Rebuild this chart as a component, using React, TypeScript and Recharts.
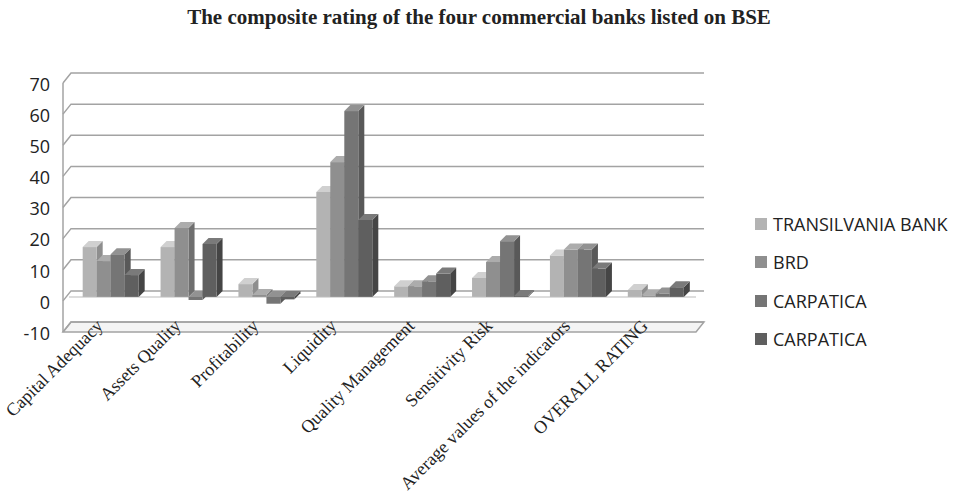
import { BarChart, Bar, XAxis, YAxis, CartesianGrid } from 'recharts'

const categories = [
  'Capital Adequacy',
  'Assets Quality',
  'Profitability',
  'Liquidity',
  'Quality Management',
  'Sensitivity Risk',
  'Average values of the indicators',
  'OVERALL RATING',
]

const transilvania = [16, 16, 4.1, 33.7, 3.4, 6.1, 13.3, 2.2]
const brd = [11.5, 22.1, 0.6, 43.3, 3.4, 11.2, 15.2, 0.5]
const carpatica1 = [13.7, -1, -2.2, 59.7, 5, 17.9, 15.2, 1.1]
const carpatica2 = [7, 17, -0.8, 24.7, 7.5, 0.3, 9.1, 3.1]

const yTicks = [-10, 0, 10, 20, 30, 40, 50, 60, 70]
const yMin = -10
const yMax = 70

const series = [
  { key: 'tb', name: 'TRANSILVANIA BANK', values: transilvania, front: '#b3b3b3', top: '#d0d0d0', side: '#8e8e8e' },
  { key: 'brd', name: 'BRD', values: brd, front: '#8f8f8f', top: '#acacac', side: '#6f6f6f' },
  { key: 'c1', name: 'CARPATICA', values: carpatica1, front: '#757575', top: '#929292', side: '#595959' },
  { key: 'c2', name: 'CARPATICA', values: carpatica2, front: '#5f5f5f', top: '#7a7a7a', side: '#454545' },
]

const data = categories.map((name, i) => {
  const row: Record<string, string | number> = { name }
  series.forEach((s) => {
    row[s.key] = s.values[i]
  })
  return row
})

const BAR_DEPTH = 6
const WALL_DX = 8
const WALL_DY = 10
const GRID = '#a3a3a3'

// front face + top + right side, so the series read like Excel's 3D columns
function make3DBar(front: string, top: string, side: string) {
  return (props: any) => {
    const { x, y, width, height } = props
    if (x == null || y == null) return <g />
    const t = Math.min(y, y + height)
    const h = Math.abs(height)
    const d = BAR_DEPTH
    const w = width
    return (
      <g>
        <polygon
          points={`${x + w},${t + d} ${x + w + d},${t} ${x + w + d},${t + h} ${x + w},${t + h + d}`}
          fill={side}
        />
        <rect x={x} y={t + d} width={w} height={h} fill={front} />
        <polygon
          points={`${x},${t + d} ${x + d},${t} ${x + w + d},${t} ${x + w},${t + d}`}
          fill={top}
        />
      </g>
    )
  }
}

function gridLine(props: any) {
  const { x1, y1, x2, y, height, key } = props
  const bottom = y + height
  const isBottom = Math.abs(y1 - bottom) < 1
  const isTop = Math.abs(y1 - y) < 1
  const value = yMax - ((y1 - y) / height) * (yMax - yMin)
  const isZero = Math.abs(value) < 0.5
  return (
    <g key={key}>
      {isBottom && (
        <polygon
          points={`${x1 - WALL_DX},${y1 + WALL_DY} ${x1},${y1} ${x2 + 10},${y1} ${x2 + 2},${y1 + WALL_DY}`}
          fill="#f4f4f4"
          stroke={GRID}
          strokeWidth={1.5}
        />
      )}
      {isTop && (
        <line
          x1={x1 - WALL_DX}
          y1={y1 + WALL_DY}
          x2={x1 - WALL_DX}
          y2={bottom + WALL_DY}
          stroke={GRID}
          strokeWidth={1.5}
        />
      )}
      {isZero && (
        <line x1={x1 - 2} y1={y1 + BAR_DEPTH} x2={x2 + 2} y2={y1 + BAR_DEPTH} stroke="#d2d2d2" strokeWidth={1.5} />
      )}
      <polyline
        points={`${x1 - WALL_DX},${y1 + WALL_DY} ${x1},${y1} ${x2 + 10},${y1}`}
        fill="none"
        stroke={GRID}
        strokeWidth={1.5}
      />
    </g>
  )
}

function YTick(props: any) {
  const { y, payload } = props
  return (
    <text
      x={50}
      y={y + WALL_DY + 3}
      textAnchor="end"
      dominantBaseline="middle"
      fontFamily="'Open Sans', sans-serif"
      fontSize={18}
      fill="#222"
    >
      {payload.value}
    </text>
  )
}

function XTick(props: any) {
  const { x, payload } = props
  const tx = x - 6
  const ty = 327
  return (
    <text
      x={tx}
      y={ty}
      textAnchor="end"
      transform={`rotate(-45, ${tx}, ${ty})`}
      fontFamily="'Liberation Serif', 'Times New Roman', serif"
      fontSize={18}
      fill="#222"
    >
      {payload.value}
    </text>
  )
}

export default function App() {
  return (
    <div style={{ position: 'absolute', left: 0, top: 0, width: 958, height: 499, background: '#fff' }}>
      <div
        style={{
          position: 'absolute',
          top: 7,
          left: 0,
          width: 958,
          textAlign: 'center',
          fontFamily: "'Liberation Serif', 'Times New Roman', serif",
          fontWeight: 'bold',
          fontSize: 21,
          lineHeight: '21px',
          color: '#222',
        }}
      >
        The composite rating of the four commercial banks listed on BSE
      </div>
      <BarChart
        width={958}
        height={499}
        data={data}
        margin={{ top: 73, right: 264, bottom: 0, left: 0 }}
        barCategoryGap="15%"
        barGap={0}
      >
        <CartesianGrid horizontal={gridLine} vertical={false} />
        <YAxis
          width={71}
          domain={[yMin, yMax]}
          ticks={yTicks}
          axisLine={false}
          tickLine={false}
          tick={<YTick />}
          interval={0}
        />
        <XAxis
          dataKey="name"
          height={177}
          axisLine={false}
          tickLine={false}
          interval={0}
          tick={<XTick />}
        />
        {series.map((s) => (
          <Bar
            key={s.key}
            dataKey={s.key}
            name={s.name}
            fill={s.front}
            isAnimationActive={false}
            shape={make3DBar(s.front, s.top, s.side)}
          />
        ))}
      </BarChart>
      <div style={{ position: 'absolute', left: 755, top: 205 }}>
        {series.map((s) => (
          <div
            key={s.key}
            style={{
              display: 'flex',
              alignItems: 'center',
              height: 38.3,
              fontFamily: "'Open Sans', sans-serif",
              fontSize: 18,
              color: '#222',
            }}
          >
            <span style={{ display: 'inline-block', width: 12, height: 12, background: s.front, marginRight: 6 }} />
            {s.name}
          </div>
        ))}
      </div>
    </div>
  )
}
